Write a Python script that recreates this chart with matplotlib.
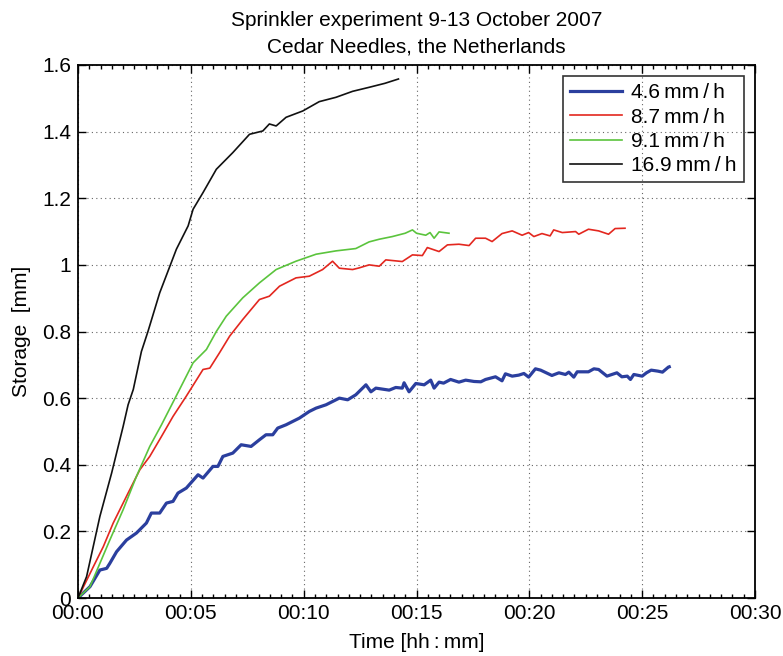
import matplotlib
matplotlib.use("Agg")
import matplotlib.pyplot as plt
from matplotlib.ticker import MultipleLocator, FixedLocator

plt.rcParams['font.family'] = ['Liberation Sans', 'DejaVu Sans']

# ---- data (time in minutes, storage in mm) ----
t_46 = [0, 0.53, 0.97, 1.27, 1.41, 1.71, 2.15, 2.59, 3.03, 3.25, 3.62, 3.92, 4.21, 4.43, 4.8,
        5.32, 5.54, 5.98, 6.2, 6.42, 6.86, 7.23, 7.67, 8.04, 8.33, 8.63, 8.85, 9.22, 9.81, 10.25,
        10.55, 10.99, 11.58, 11.95, 12.31, 12.76, 12.98, 13.2, 13.79, 14.08, 14.37, 14.45, 14.67,
        14.97, 15.34, 15.63, 15.78, 16.0, 16.2, 16.51, 16.88, 17.18, 17.55, 17.85, 18.06, 18.5,
        18.79, 18.94, 19.24, 19.53, 19.76, 19.97, 20.27, 20.5, 21.0, 21.31, 21.6, 21.75, 21.97,
        22.12, 22.62, 22.86, 23.07, 23.44, 23.88, 24.1, 24.34, 24.48, 24.63, 25.0, 25.19, 25.4,
        25.7, 25.9, 26.16, 26.2]
s_46 = [0, 0.034, 0.084, 0.089, 0.104, 0.139, 0.174, 0.195, 0.225, 0.255, 0.255, 0.285, 0.29,
        0.315, 0.33, 0.37, 0.36, 0.395, 0.395, 0.425, 0.435, 0.46, 0.455, 0.475, 0.49, 0.49, 0.51,
        0.52, 0.54, 0.56, 0.57, 0.58, 0.6, 0.595, 0.61, 0.64, 0.619, 0.63, 0.624, 0.632, 0.63,
        0.646, 0.619, 0.644, 0.64, 0.654, 0.63, 0.648, 0.645, 0.656, 0.648, 0.654, 0.65, 0.649,
        0.656, 0.664, 0.652, 0.673, 0.666, 0.669, 0.674, 0.663, 0.688, 0.684, 0.668, 0.676, 0.671,
        0.678, 0.663, 0.679, 0.679, 0.688, 0.686, 0.666, 0.676, 0.664, 0.666, 0.656, 0.671, 0.666,
        0.676, 0.684, 0.681, 0.678, 0.693, 0.694]

t_87 = [0, 0.68, 1.12, 1.56, 2.22, 2.74, 3.18, 3.7, 4.21, 4.8, 5.54, 5.84, 6.27, 6.72, 7.3,
        8.04, 8.48, 8.93, 9.66, 10.25, 10.84, 11.28, 11.58, 12.17, 12.46, 12.9, 13.35, 13.64,
        14.37, 14.82, 15.26, 15.48, 16.0, 16.37, 16.88, 17.33, 17.62, 18.06, 18.35, 18.79, 19.24,
        19.68, 19.97, 20.2, 20.56, 20.92, 21.08, 21.46, 22.05, 22.19, 22.62, 23.07, 23.51, 23.8,
        24.24]
s_87 = [0, 0.094, 0.154, 0.225, 0.315, 0.385, 0.425, 0.485, 0.545, 0.606, 0.686, 0.69, 0.736,
        0.786, 0.836, 0.896, 0.906, 0.936, 0.961, 0.966, 0.986, 1.011, 0.99, 0.986, 0.991, 1.0,
        0.996, 1.015, 1.01, 1.03, 1.028, 1.052, 1.04, 1.06, 1.062, 1.058, 1.08, 1.08, 1.07, 1.094,
        1.102, 1.089, 1.097, 1.085, 1.094, 1.087, 1.105, 1.097, 1.1, 1.092, 1.107, 1.102, 1.092,
        1.109, 1.11]

t_91 = [0, 0.53, 0.97, 1.41, 2.0, 2.59, 3.18, 3.7, 4.5, 5.1, 5.69, 6.13, 6.57, 7.3, 8.04, 8.78,
        9.66, 10.55, 11.43, 12.31, 12.9, 13.35, 13.93, 14.5, 14.82, 15.0, 15.41, 15.6, 15.78,
        16.0, 16.44]
s_91 = [0, 0.034, 0.104, 0.174, 0.265, 0.365, 0.455, 0.52, 0.626, 0.706, 0.746, 0.80, 0.846,
        0.901, 0.946, 0.986, 1.011, 1.032, 1.042, 1.049, 1.069, 1.077, 1.085, 1.095, 1.105,
        1.095, 1.089, 1.097, 1.08, 1.099, 1.095]

t_169 = [0, 0.38, 0.97, 1.49, 2.0, 2.22, 2.45, 2.81, 3.1, 3.62, 4.36, 4.88, 5.1, 5.54, 6.13,
         6.86, 7.6, 8.19, 8.48, 8.78, 9.22, 9.96, 10.69, 11.43, 12.17, 12.9, 13.6, 14.2]
s_169 = [0, 0.064, 0.245, 0.375, 0.515, 0.58, 0.626, 0.74, 0.80, 0.916, 1.047, 1.117, 1.167,
         1.217, 1.287, 1.337, 1.392, 1.402, 1.423, 1.417, 1.443, 1.462, 1.49, 1.503, 1.521,
         1.533, 1.545, 1.558]

labels = ['4.6\u2009mm\u2009/\u2009h', '8.7\u2009mm\u2009/\u2009h',
          '9.1\u2009mm\u2009/\u2009h', '16.9\u2009mm\u2009/\u2009h']
colors = ['#2b3f9e', '#e3271f', '#5bc43d', '#111111']
widths = [2.3, 1.2, 1.2, 1.2]

xtick_pos = [0, 5, 10, 15, 20, 25, 30]
xtick_labels = ['00:00', '00:05', '00:10', '00:15', '00:20', '00:25', '00:30']
ytick_pos = [0, 0.2, 0.4, 0.6, 0.8, 1.0, 1.2, 1.4, 1.6]
ytick_labels = ['0', '0.2', '0.4', '0.6', '0.8', '1', '1.2', '1.4', '1.6']

FS = 15

fig = plt.figure(figsize=(7.83, 6.56), dpi=100)
ax = fig.add_axes([78/783, 1 - 598/656, (755 - 78)/783, (598 - 65)/656])

series = [(t_46, s_46), (t_87, s_87), (t_91, s_91), (t_169, s_169)]
for (t, s), lab, c, w in zip(series, labels, colors, widths):
    ax.plot(t, s, color=c, lw=w, label=lab, solid_joinstyle='round')

ax.set_xlim(0, 30)
ax.set_ylim(0, 1.6)
ax.xaxis.set_major_locator(FixedLocator(xtick_pos))
ax.set_xticklabels(xtick_labels)
ax.yaxis.set_major_locator(FixedLocator(ytick_pos))
ax.set_yticklabels(ytick_labels)
ax.xaxis.set_minor_locator(MultipleLocator(0.5))

ax.tick_params(which='both', direction='in', top=True, right=True, labelsize=FS,
               width=1.0, colors='black')
ax.tick_params(which='major', length=6)
ax.tick_params(axis='x', which='major', pad=4.5)
ax.tick_params(axis='y', which='major', pad=5)
ax.tick_params(which='minor', length=3)

ax.grid(True, which='major', linestyle=(0, (1, 3)), color='#666666', linewidth=0.8)
for sp in ax.spines.values():
    sp.set_linewidth(1.3)

ax.set_xlabel('Time [hh\u2009:\u2009mm]', fontsize=FS, labelpad=7)
ax.set_ylabel('Storage  [mm]', fontsize=FS, labelpad=8)
ax.set_title('Sprinkler experiment 9-13 October 2007\nCedar Needles, the Netherlands',
             fontsize=FS, pad=9, linespacing=1.5)

leg = ax.legend(loc='upper right', fontsize=FS, handlelength=2.5, handletextpad=0.45,
                borderaxespad=0.55, fancybox=False, edgecolor='black',
                labelspacing=0.26, borderpad=0.32)
leg.get_frame().set_facecolor('none')
leg.get_frame().set_linewidth(1.2)

fig.savefig('out.png', dpi=100)
